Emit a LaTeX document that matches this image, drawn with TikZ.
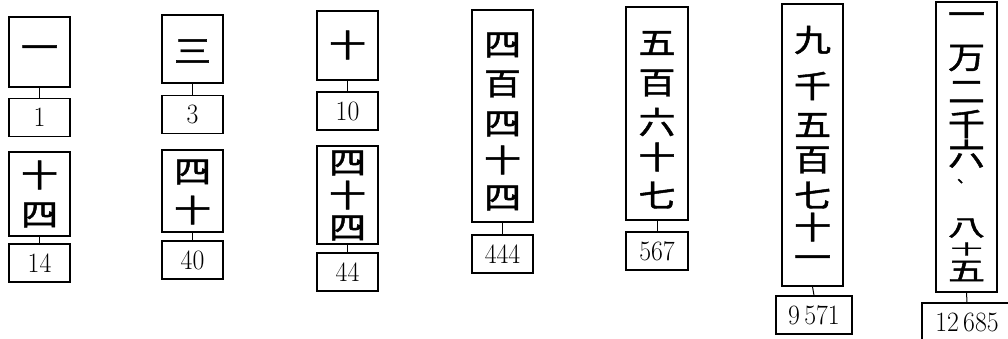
\documentclass[tikz,border=0pt]{standalone}
\usepackage{fontspec}
\usepackage{graphicx}
\newfontfamily\cjk{Noto Sans CJK JP}[FakeBold=1.4]
\newcommand{\kc}[1]{\scalebox{1}[0.84]{#1}}
\newcommand{\nm}[1]{\scalebox{0.92}[1]{#1}}
\tikzset{
  kbox/.style={draw=black, line width=1.3pt, rectangle, inner sep=0pt, minimum width=61pt},
  nbox/.style={draw=black, line width=1.1pt, rectangle, inner sep=0pt, minimum height=38pt,
    font=\fontsize{28}{28}\selectfont},
  kch/.style={inner sep=0pt, font=\fontsize{37}{37}\selectfont\cjk},
  link/.style={line width=1pt}
}
\begin{document}
\begin{tikzpicture}[x=1pt,y=-1pt]
\useasboundingbox (0,0) rectangle (1008,338);
% boxes
\node[kbox, minimum height=70pt] (k1) at (39.5,52) {};
\node[nbox, minimum width=61pt] (n1) at (39.5,117.5) {\nm{1}};
\node[kbox, minimum height=84pt] (k2) at (39.5,194) {};
\node[nbox, minimum width=61pt] (n2) at (39.5,263) {\nm{14}};

\node[kbox, minimum height=68pt] (k3) at (192.5,49) {};
\node[nbox, minimum width=61pt] (n3) at (192.5,114.5) {\nm{3}};
\node[kbox, minimum height=82pt] (k4) at (192.5,191) {};
\node[nbox, minimum width=61pt] (n4) at (192.5,260) {\nm{40}};

\node[kbox, minimum height=69pt] (k5) at (347.5,45.5) {};
\node[nbox, minimum width=61pt] (n5) at (347.5,111) {\nm{10}};
\node[kbox, minimum height=98pt] (k6) at (347.5,195) {};
\node[nbox, minimum width=61pt] (n6) at (347.5,272) {\nm{44}};

\node[kbox, minimum height=212pt] (k7) at (502.5,116) {};
\node[nbox, minimum width=61pt] (n7) at (502.5,254) {\nm{444}};

\node[kbox, minimum width=62pt, minimum height=213pt] (k8) at (657,113.5) {};
\node[nbox, minimum width=62pt] (n8) at (657,251) {\nm{567}};

\node[kbox, minimum height=282pt] (k9) at (812.5,145) {};
\node[nbox, minimum width=76pt] (n9) at (814,315) {\nm{9\,571}};

\node[kbox, minimum height=290pt] (k10) at (966.5,147) {};
\node[nbox, minimum width=90pt] (n10) at (967,322) {\nm{12\,685}};

% connectors
\foreach \i in {1,...,10} {\draw[link] (k\i.south) -- (n\i.north);}

% characters
\node[kch] (c1) at (39.5,52) {\kc{一}};
\node[kch] (c2) at (39.5,175) {\kc{十}};
\node[kch] (c3) at (39.5,215) {\kc{四}};

\node[kch] (c4) at (192.5,51) {\kc{三}};
\node[kch] (c5) at (192.5,172) {\kc{四}};
\node[kch] (c6) at (192.5,210) {\kc{十}};

\node[kch] (c7) at (347.5,45) {\kc{十}};
\node[kch] (c8) at (347.5,163) {\kc{四}};
\node[kch] (c9) at (347.5,195) {\kc{十}};
\node[kch] (c10) at (347.5,228) {\kc{四}};

\node[kch] (c11) at (502.5,45) {\kc{四}};
\node[kch] (c12) at (502.5,84) {\kc{百}};
\node[kch] (c13) at (502.5,124) {\kc{四}};
\node[kch] (c14) at (502.5,160) {\kc{十}};
\node[kch] (c15) at (502.5,198) {\kc{四}};

\node[kch] (c16) at (657,43) {\kc{五}};
\node[kch] (c17) at (657,83) {\kc{百}};
\node[kch] (c18) at (657,122) {\kc{六}};
\node[kch] (c19) at (657,157) {\kc{十}};
\node[kch] (c20) at (657,195) {\kc{七}};

\node[kch] (c21) at (812.5,40) {\kc{九}};
\node[kch] (c22) at (812.5,86) {\kc{千}};
\node[kch] (c23) at (812.5,125) {\kc{五}};
\node[kch] (c24) at (812.5,160) {\kc{百}};
\node[kch] (c25) at (812.5,195) {\kc{七}};
\node[kch] (c26) at (812.5,227) {\kc{十}};
\node[kch] (c27) at (812.5,262) {\kc{一}};

\node[kch] (c28) at (966.5,19) {\kc{一}};
\node[kch] (c29) at (966.5,58) {\kc{万}};
\node[kch] (c30) at (966.5,92) {\kc{二}};
\node[kch] (c31) at (966.5,124) {\kc{千}};
\node[kch, text depth=1pt] (c32) at (966.5,153) {\kc{六}};
\node[kch, font=\fontsize{16}{16}\selectfont\cjk, text height=5pt, text depth=2pt] (c33) at (965,181) {、};
\node[kch] (c34) at (966.5,228) {\scalebox{1}[0.62]{八}};
\node[kch, font=\fontsize{32}{32}\selectfont\cjk] (c35) at (966.5,249) {\scalebox{1}[0.45]{十}};
\node[kch] (c36) at (966.5,271) {\scalebox{1}[0.72]{五}};
\end{tikzpicture}
\end{document}
